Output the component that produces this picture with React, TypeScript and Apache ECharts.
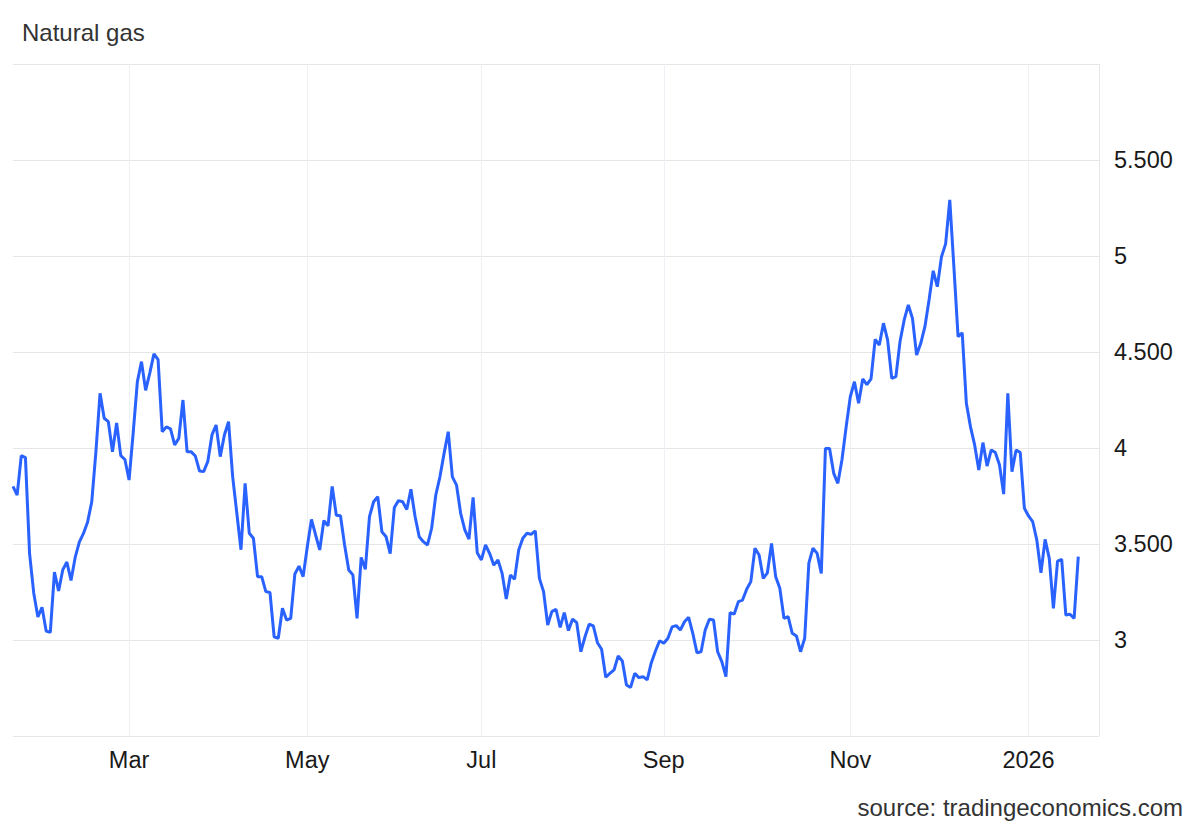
import React, { useEffect, useRef } from "react";
import * as echarts from "echarts";

// ---- Data ----
const startDate = "2025-01-22"; // first trading day shown
const endDate = "2026-01-26"; // right edge of the axis
const closedDays = ["2025-05-26"]; // market holiday without a point
const labelMonths = ["2025-03", "2025-05", "2025-07", "2025-09", "2025-11", "2026-01"];
const monthNames = ["Jan", "Feb", "Mar", "Apr", "May", "Jun", "Jul", "Aug", "Sep", "Oct", "Nov", "Dec"];
const yMin = 2.5;
const yMax = 6;
const yStep = 0.5;
const titleText = "Natural gas";
const sourceText = "source: tradingeconomics.com";

// one value per trading day, starting at startDate
const prices = [
  3.8, 3.755, 3.96, 3.95, 3.45, 3.245, 3.12, 3.17, 3.047, 3.04,
  3.354, 3.255, 3.365, 3.406, 3.31, 3.43, 3.51, 3.555, 3.615, 3.72,
  3.98, 4.285, 4.155, 4.137, 3.98, 4.13, 3.96, 3.94, 3.833, 4.08,
  4.345, 4.45, 4.3, 4.39, 4.49, 4.46, 4.085, 4.11, 4.1, 4.016,
  4.05, 4.25, 3.98, 3.98, 3.958, 3.88, 3.877, 3.93, 4.068, 4.12,
  3.955, 4.068, 4.137, 3.85, 3.66, 3.47, 3.816, 3.556, 3.53, 3.33,
  3.33, 3.252, 3.247, 3.017, 3.009, 3.165, 3.104, 3.113, 3.344, 3.385,
  3.33, 3.486, 3.628, 3.547, 3.469, 3.622, 3.594, 3.8, 3.65, 3.647,
  3.495, 3.365, 3.339, 3.113, 3.43, 3.368, 3.643, 3.72, 3.746, 3.564,
  3.538, 3.45, 3.69, 3.726, 3.72, 3.68, 3.785, 3.643, 3.538, 3.512,
  3.495, 3.582, 3.755, 3.85, 3.972, 4.085, 3.85, 3.807, 3.66, 3.573,
  3.526, 3.743, 3.455, 3.417, 3.495, 3.45, 3.39, 3.417, 3.347, 3.213,
  3.339, 3.316, 3.469, 3.53, 3.556, 3.55, 3.568, 3.321, 3.252, 3.078,
  3.148, 3.16, 3.066, 3.143, 3.049, 3.109, 3.09, 2.939, 3.017, 3.082,
  3.073, 2.986, 2.952, 2.806, 2.826, 2.844, 2.917, 2.891, 2.766, 2.753,
  2.826, 2.804, 2.809, 2.792, 2.882, 2.943, 2.996, 2.983, 3.009, 3.068,
  3.075, 3.052, 3.095, 3.118, 3.035, 2.934, 2.939, 3.052, 3.108, 3.104,
  2.939, 2.887, 2.809, 3.143, 3.135, 3.2, 3.208, 3.264, 3.304, 3.478,
  3.443, 3.321, 3.35, 3.503, 3.33, 3.269, 3.113, 3.122, 3.035, 3.021,
  2.939, 3.009, 3.4, 3.478, 3.451, 3.347, 3.998, 3.998, 3.868, 3.816,
  3.94, 4.11, 4.267, 4.345, 4.233, 4.36, 4.33, 4.36, 4.566, 4.536,
  4.65, 4.563, 4.363, 4.372, 4.555, 4.667, 4.745, 4.675, 4.484, 4.545,
  4.632, 4.771, 4.923, 4.84, 4.996, 5.063, 5.292, 4.94, 4.58, 4.6,
  4.233, 4.11, 4.016, 3.885, 4.028, 3.906, 3.99, 3.976, 3.911, 3.76,
  4.285, 3.877, 3.99, 3.976, 3.686, 3.646, 3.617, 3.52, 3.35, 3.524,
  3.425, 3.165, 3.411, 3.42, 3.13, 3.134, 3.113, 3.434,
];

const FONT = "'Liberation Sans', Arial, Helvetica, sans-serif";

function tradingDays(start: string, end: string, closed: string[]): string[] {
  const out: string[] = [];
  const d = new Date(start + "T00:00:00Z");
  const e = new Date(end + "T00:00:00Z");
  while (d <= e) {
    const w = d.getUTCDay();
    const iso = d.toISOString().slice(0, 10);
    if (w !== 0 && w !== 6 && !closed.includes(iso)) out.push(iso);
    d.setUTCDate(d.getUTCDate() + 1);
  }
  return out;
}

export default function App() {
  const ref = useRef<HTMLDivElement>(null);

  useEffect(() => {
    if (!ref.current) return;
    const chart = echarts.init(ref.current, undefined, { renderer: "svg" });
    const categories = tradingDays(startDate, endDate, closedDays);
    const labelIdx = new Set(
      labelMonths.map((m) => categories.findIndex((c) => c.startsWith(m)))
    );
    const isLabel = (i: number) => labelIdx.has(i);

    chart.setOption({
      animation: false,
      backgroundColor: "#ffffff",
      title: {
        text: titleText,
        left: 17,
        top: 15,
        textStyle: { fontSize: 24, fontWeight: "normal", color: "#333333", fontFamily: FONT },
      },
      grid: { left: 13, right: 101, top: 64, bottom: 96, containLabel: false },
      xAxis: {
        type: "category",
        data: categories,
        boundaryGap: false,
        axisLine: { show: false },
        axisTick: { show: false },
        axisLabel: {
          interval: (i: number) => isLabel(i),
          formatter: (v: string) => {
            const [y, m] = v.split("-");
            return m === "01" ? y : monthNames[Number(m) - 1];
          },
          fontSize: 23.5,
          color: "#1a1a1a",
          fontFamily: FONT,
          margin: 12,
        },
        splitLine: {
          show: true,
          interval: (i: number) => isLabel(i),
          lineStyle: { color: "#edf0f5", width: 1 },
        },
      },
      yAxis: {
        type: "value",
        position: "right",
        min: yMin,
        max: yMax,
        interval: yStep,
        axisLine: { show: true, lineStyle: { color: "#e6e6e6" } },
        axisTick: { show: false },
        axisLabel: {
          showMinLabel: false,
          showMaxLabel: false,
          margin: 15,
          fontSize: 23.5,
          color: "#1a1a1a",
          fontFamily: FONT,
          formatter: (v: number) => (Number.isInteger(v) ? String(v) : v.toFixed(3)),
        },
        splitLine: { show: true, lineStyle: { color: "#e6e6e6", width: 1 } },
      },
      series: [
        {
          type: "line",
          data: prices,
          showSymbol: false,
          smooth: false,
          lineStyle: { color: "#2962ff", width: 3 },
          itemStyle: { color: "#2962ff" },
        },
      ],
      graphic: [
        {
          type: "text",
          right: 17,
          top: 795,
          style: {
            text: sourceText,
            fontSize: 24,
            fill: "#333333",
            fontFamily: FONT,
          },
        },
      ],
    });
    return () => chart.dispose();
  }, []);

  return (
    <div
      ref={ref}
      style={{ position: "fixed", left: 0, top: 0, width: 1200, height: 832, background: "#fff" }}
    />
  );
}
